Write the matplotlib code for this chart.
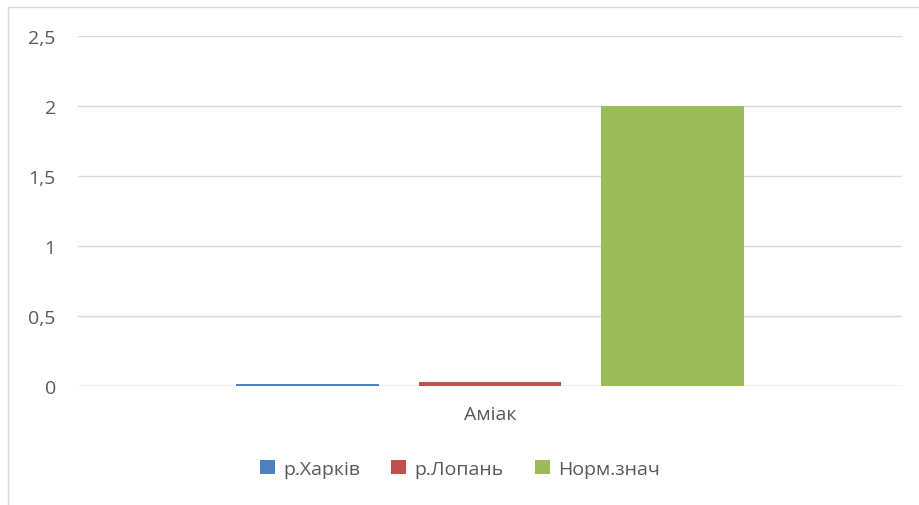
import matplotlib.pyplot as plt
from matplotlib.patches import Rectangle
from matplotlib.ticker import FuncFormatter

categories = ['Аміак']
series = ['р.Харків', 'р.Лопань', 'Норм.знач']
values = [0.012, 0.03, 2.0]
colors = ['#4f81bd', '#c0504d', '#9bbb59']
yticks = [0, 0.5, 1, 1.5, 2, 2.5]

plt.rcParams['font.family'] = ['Open Sans', 'DejaVu Sans']
text_color = '#595959'

fig = plt.figure(figsize=(9.2, 5.06), dpi=100)
fig.patches.append(Rectangle((8 / 920, -0.1), 1.2, 1 - 8 / 506 + 0.1,
                             transform=fig.transFigure, fill=False,
                             edgecolor='#d9d9d9', linewidth=1))
ax = fig.add_axes([78 / 920, 1 - 387 / 506, 824 / 920, 350 / 506])

width = 0.1735
offsets = [-0.221, 0, 0.221]
for name, v, c, off in zip(series, values, colors, offsets):
    ax.bar(off, v, width=width, color=c, label=name, zorder=3)

ax.set_xlim(-0.5, 0.5)
ax.set_ylim(0, 2.5)
ax.set_yticks(yticks)
ax.yaxis.set_major_formatter(FuncFormatter(lambda v, p: ('%g' % v).replace('.', ',')))
ax.set_xticks([0])
ax.set_xticklabels(categories)
ax.grid(axis='y', color='#d9d9d9', linewidth=1, zorder=0)
for s in ax.spines.values():
    s.set_visible(False)
ax.axhline(0, color='#d9d9d9', linewidth=1, zorder=2)
ax.tick_params(length=0, labelsize=14, labelcolor=text_color)
ax.tick_params(axis='y', pad=16)
ax.tick_params(axis='x', pad=14)

leg = ax.legend(loc='center', ncol=3, frameon=False, fontsize=14, labelcolor=text_color,
                handlelength=0.75, handleheight=0.75, handletextpad=0.45, columnspacing=1.6)
leg.set_bbox_to_anchor((0.5, 1 - 470 / 506), transform=fig.transFigure)

fig.savefig('out.png', dpi=100)
